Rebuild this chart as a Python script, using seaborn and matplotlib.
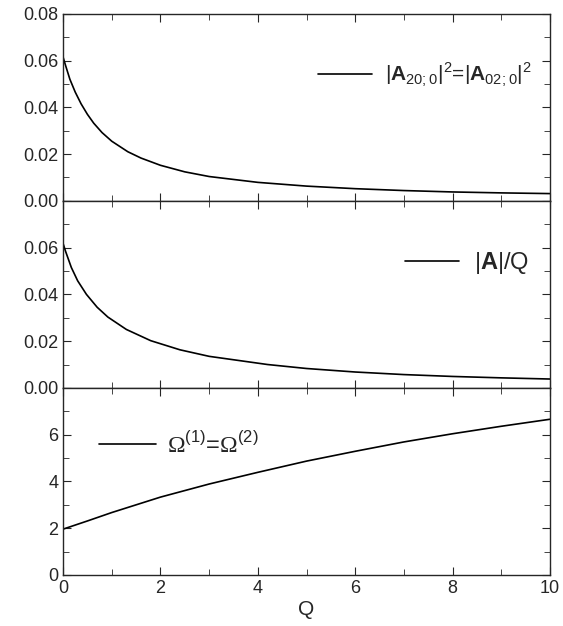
import numpy as np
import pandas as pd
import matplotlib
matplotlib.use("Agg")
import matplotlib.pyplot as plt
import seaborn as sns
from matplotlib.ticker import MultipleLocator

# values
q1 = [0, 0.05, 0.14, 0.25, 0.37, 0.5, 0.63, 0.8, 1.0, 1.33, 1.6, 2, 2.5, 3, 4, 5, 6, 7, 8, 9, 10]
a2 = [0.0615, 0.0580, 0.0520, 0.0465, 0.0415, 0.0370, 0.0332, 0.0292, 0.0255, 0.0210,
      0.0183, 0.0152, 0.0124, 0.0104, 0.0079, 0.0063, 0.0052, 0.0044, 0.0038, 0.0034, 0.0031]

q2 = [0, 0.05, 0.17, 0.3, 0.48, 0.7, 0.92, 1.3, 1.8, 2.4, 3, 4.2, 5, 6, 7, 8, 9, 10]
a_over_q = [0.0618, 0.0585, 0.0515, 0.0458, 0.0400, 0.0345, 0.0303, 0.0250, 0.0202,
            0.0163, 0.0135, 0.0100, 0.0083, 0.0068, 0.0057, 0.0049, 0.0043, 0.0038]

q3 = [0, 0.2, 0.5, 1, 1.5, 2, 3, 4, 5, 6, 7, 8, 9, 10]
omega = [1.96, 2.10, 2.31, 2.67, 3.00, 3.33, 3.89, 4.39, 4.87, 5.29,
         5.69, 6.04, 6.36, 6.66]

labels = [r'$|\mathbf{A}_{20{;}0}|^2$=$|\mathbf{A}_{02{;}0}|^2$',
          r'|$\mathbf{A}$|/Q',
          r'$\mathsf{\Omega}^{(1)}$=$\mathsf{\Omega}^{(2)}$']

sns.set_style("ticks")
plt.rcParams['font.family'] = ['Liberation Sans', 'DejaVu Sans']
plt.rcParams['mathtext.fontset'] = 'custom'
plt.rcParams['mathtext.rm'] = 'Liberation Sans'
plt.rcParams['mathtext.bf'] = 'Liberation Sans:bold'
plt.rcParams['mathtext.sf'] = 'Liberation Serif'

frames = [pd.DataFrame({'Q': q1, 'y': a2}),
          pd.DataFrame({'Q': q2, 'y': a_over_q}),
          pd.DataFrame({'Q': q3, 'y': omega})]

fig, axes = plt.subplots(3, 1, figsize=(5.63, 6.26), dpi=100, sharex=True)
fig.subplots_adjust(left=0.112, right=0.977, top=0.978, bottom=0.0815, hspace=0)

for i, ax in enumerate(axes):
    sns.lineplot(data=frames[i], x='Q', y='y', ax=ax, color='black', linewidth=1.2,
                 label=labels[i])
    ax.set_xlim(0, 10)
    ax.xaxis.set_major_locator(MultipleLocator(2))
    ax.xaxis.set_minor_locator(MultipleLocator(1))
    ax.tick_params(which='both', direction='in', top=True, right=True,
                   labelsize=13)
    ax.tick_params(which='major', length=6)
    ax.tick_params(which='minor', length=4)
    ax.set_ylabel('')
    ax.set_xlabel('')
    for s in ax.spines.values():
        s.set_linewidth(1.0)

axes[0].set_ylim(0, 0.08)
axes[0].set_yticks([0, 0.02, 0.04, 0.06, 0.08])
axes[0].yaxis.set_minor_locator(MultipleLocator(0.01))
axes[0].set_yticklabels(['0.00', '0.02', '0.04', '0.06', '0.08'])

axes[1].set_ylim(0, 0.08)
axes[1].set_yticks([0, 0.02, 0.04, 0.06])
axes[1].yaxis.set_minor_locator(MultipleLocator(0.01))
axes[1].set_yticklabels(['0.00', '0.02', '0.04', '0.06'])

axes[2].set_ylim(0, 8)
axes[2].set_yticks([0, 2, 4, 6])
axes[2].yaxis.set_minor_locator(MultipleLocator(1))

axes[2].set_xlabel('Q', fontsize=15, labelpad=2)

axes[0].legend(loc='upper right', bbox_to_anchor=(1.0, 0.85), frameon=False,
               fontsize=15, handlelength=2.6, handletextpad=0.6)
axes[1].legend(loc='upper right', bbox_to_anchor=(1.0, 0.85), frameon=False,
               fontsize=17, handlelength=2.3, handletextpad=0.6)
axes[2].legend(loc='upper left', bbox_to_anchor=(0.03, 0.88), frameon=False,
               fontsize=17, handlelength=2.4, handletextpad=0.5)

fig.savefig('out.png', dpi=100)
